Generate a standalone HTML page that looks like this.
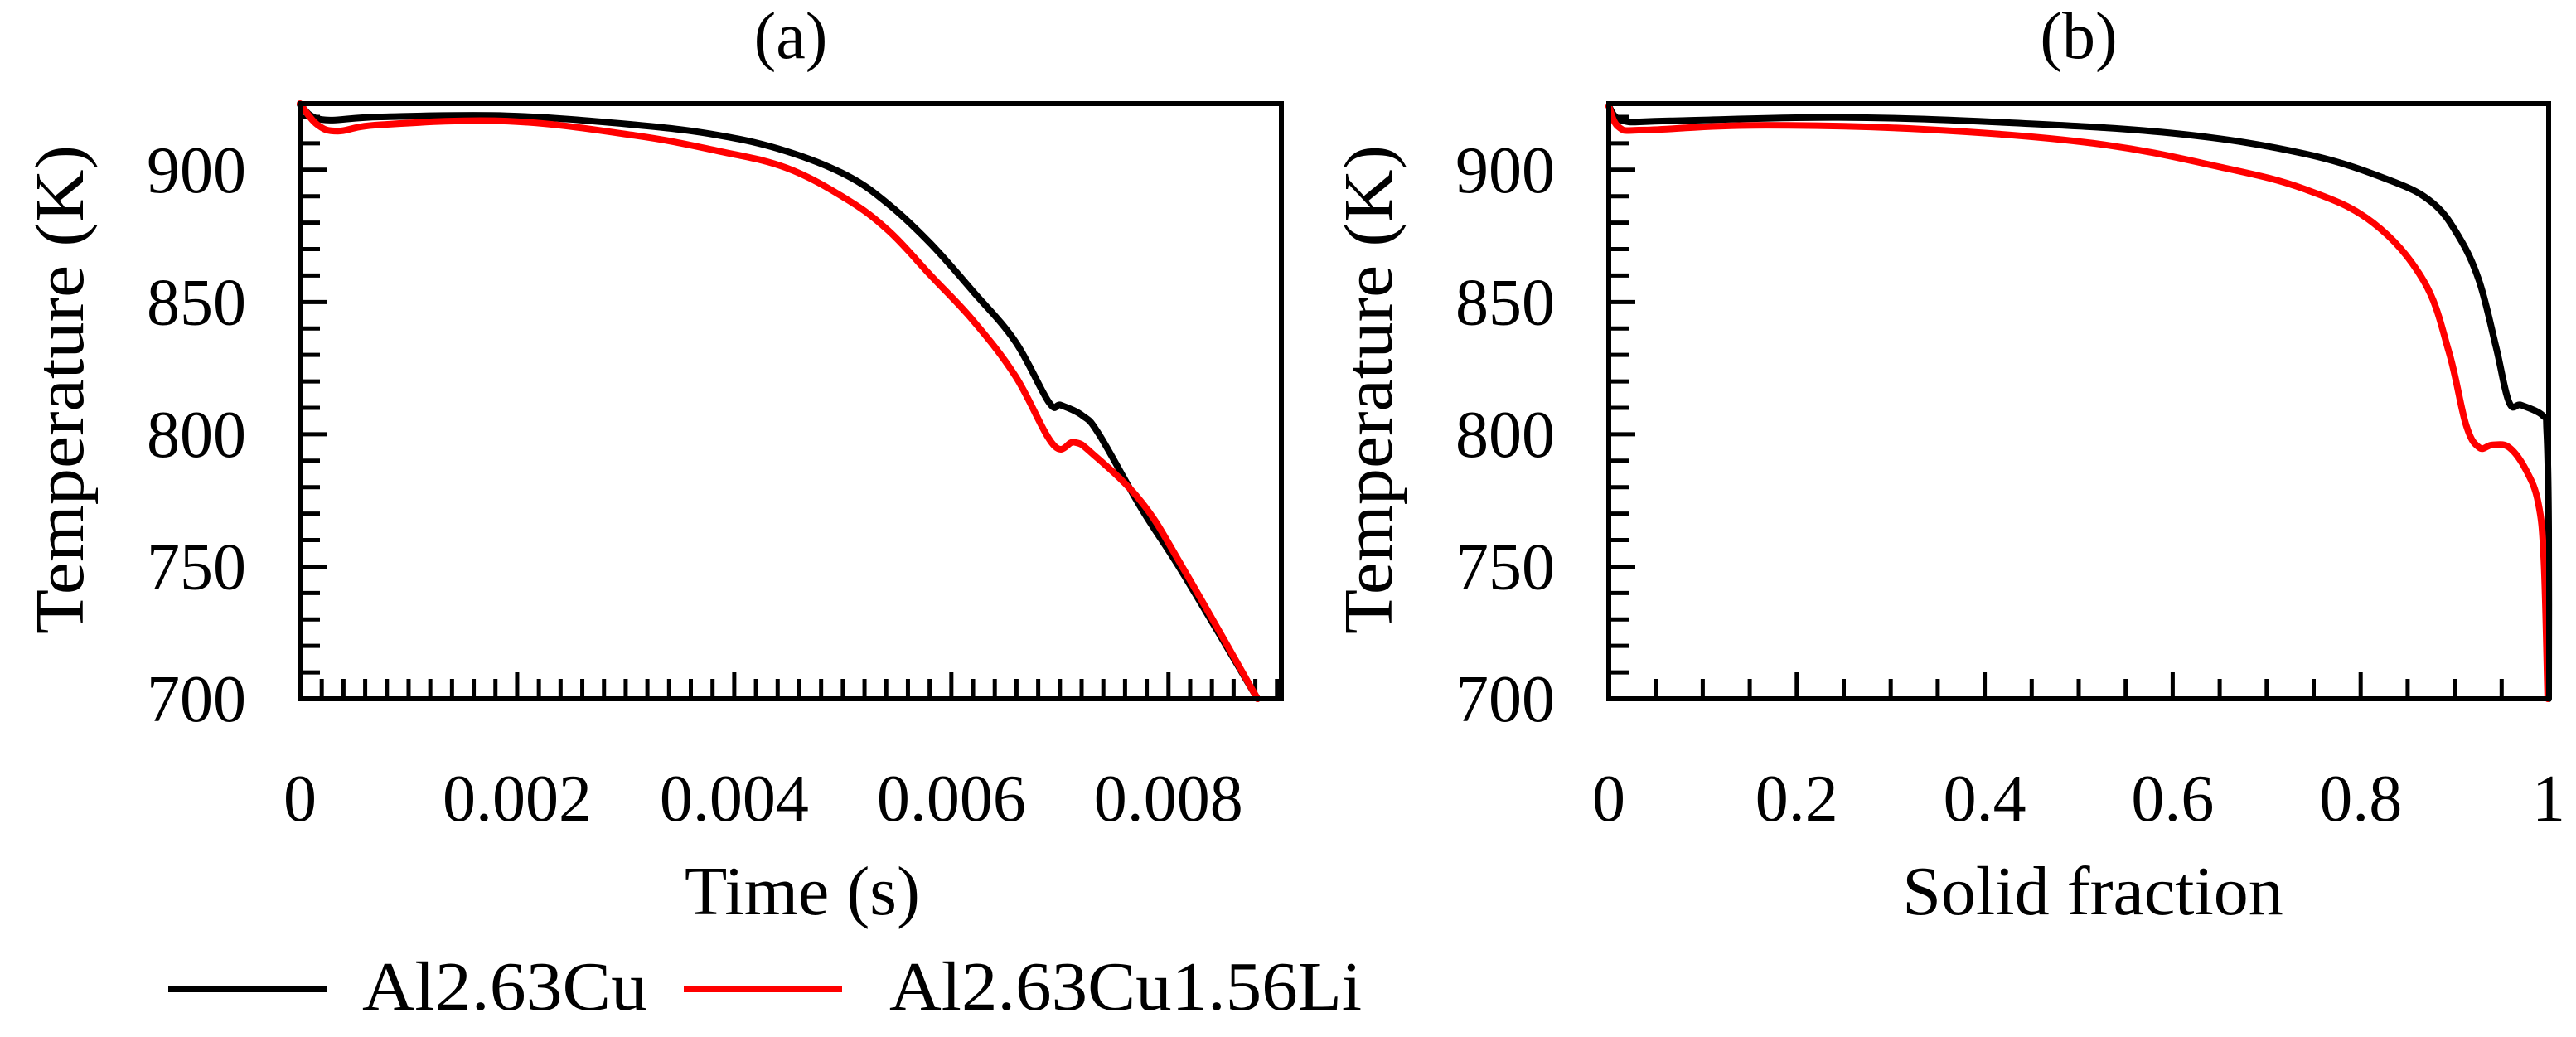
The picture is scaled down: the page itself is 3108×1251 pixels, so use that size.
<!DOCTYPE html>
<html><head><meta charset="utf-8">
<style>
html,body{margin:0;padding:0;background:#fff;}
svg{display:block;}
text{font-family:"Liberation Serif",serif;fill:#000;}
</style></head>
<body>
<svg id="fig" width="3108" height="1251" viewBox="0 0 3108 1251" xmlns="http://www.w3.org/2000/svg">
</svg>
<script>
// ---- Panel (a) data: Time (s) vs Temperature (K)
const timeCu   = [0, 0.000195, 0.00074, 0.00191, 0.00308, 0.00386, 0.00448, 0.00503, 0.00542, 0.00581, 0.0062, 0.00659, 0.0069, 0.00701, 0.00721, 0.00736, 0.00775, 0.00814, 0.00882];
const tempCuA  = [924.7, 919, 920, 920.4, 917, 913, 907, 898, 887, 872, 854, 835, 812, 811, 807, 800, 772, 747, 700];
const timeLi   = [0, 0.00016, 0.00035, 0.00074, 0.00191, 0.00308, 0.00386, 0.00448, 0.00503, 0.00542, 0.00581, 0.0062, 0.00659, 0.00694, 0.00713, 0.00729, 0.00775, 0.00814, 0.00882];
const tempLiA  = [925, 917, 914.6, 917, 918.4, 913, 907, 900.7, 889, 877, 860, 843, 822, 796, 797, 793, 774.5, 749, 700];
// ---- Panel (b) data: Solid fraction vs Temperature (K)
const fracCu   = [0, 0.0153, 0.065, 0.245, 0.426, 0.606, 0.741, 0.831, 0.876, 0.904, 0.926, 0.944, 0.958, 0.971, 0.994, 0.998, 1, 1];
const tempCuB  = [924, 918.5, 918.5, 919.8, 917.8, 913.6, 906, 896, 887.6, 875, 858, 833, 812, 811, 807, 801, 764, 700];
const fracLi   = [0, 0.011, 0.038, 0.155, 0.335, 0.516, 0.651, 0.741, 0.813, 0.867, 0.894, 0.912, 0.926, 0.94, 0.958, 0.976, 0.989, 0.995, 0.999];
const tempLiB  = [924, 916, 915, 916.8, 915.3, 910, 901, 892.6, 880, 858, 831, 803.7, 795, 796, 795, 786.4, 774, 752, 700];
// ---- ticks
const yTickLabels = [700, 750, 800, 850, 900];
const xTickLabelsA = [0, 0.002, 0.004, 0.006, 0.008];
const xTickLabelsB = [0, 0.2, 0.4, 0.6, 0.8, 1];

const NS = "http://www.w3.org/2000/svg";
const svg = document.getElementById('fig');
function mk(tag, attrs, parent){ const e=document.createElementNS(NS,tag); for(const k in attrs) e.setAttribute(k,attrs[k]); (parent||svg).appendChild(e); return e; }

function smoothPath(P){
  let d = 'M' + P[0][0].toFixed(1) + ',' + P[0][1].toFixed(1);
  for(let i=0;i<P.length-1;i++){
    const p0 = P[Math.max(0,i-1)], p1 = P[i], p2 = P[i+1], p3 = P[Math.min(P.length-1,i+2)];
    const t = 0.18;
    const c1 = [p1[0]+(p2[0]-p0[0])*t, p1[1]+(p2[1]-p0[1])*t];
    const c2 = [p2[0]-(p3[0]-p1[0])*t, p2[1]-(p3[1]-p1[1])*t];
    d += ' C' + c1[0].toFixed(1)+','+c1[1].toFixed(1)+' '+c2[0].toFixed(1)+','+c2[1].toFixed(1)+' '+p2[0].toFixed(1)+','+p2[1].toFixed(1);
  }
  return d;
}

function panel(cfg){
  const g = mk('g',{});
  
  
  const sx = v => cfg.x0 + (v - cfg.xmin)/(cfg.xmax - cfg.xmin)*(cfg.x1 - cfg.x0);
  const sy = v => cfg.y0 - (v - 700)/(925 - 700)*(cfg.y0 - cfg.y1);
  const nx = Math.round((cfg.xmaxTick - cfg.xmin)/cfg.xMinor);
  for(let i=1;i<=nx;i++){
    const v = cfg.xmin + i*cfg.xMinor;
    const major = i % cfg.xMajorEvery === 0;
    const t = mk('line',{x1:sx(v),x2:sx(v),y1:cfg.y0,y2:cfg.y0-(major?32:24),stroke:'#000','stroke-width':5},g);
    
    
  }
  for(let v=710; v<925; v+=10){
    const major = v % 50 === 0;
    const t = mk('line',{x1:cfg.x0,x2:cfg.x0+(major?32:24),y1:sy(v),y2:sy(v),stroke:'#000','stroke-width':5},g);
    
    
  }
  function series(xs, ys, color, name){
    const P = xs.map((x,i)=>[sx(x), sy(ys[i])]);
    const p = mk('path',{d:smoothPath(P),fill:'none',stroke:color,'stroke-width':8,'stroke-linejoin':'round','stroke-linecap':'round'},g);
    
    
  }
  series(cfg.xs1, cfg.ys1, '#000', 'series-al263cu');
  series(cfg.xs2, cfg.ys2, '#ff0000', 'series-al263cu156li');
  const f = mk('rect',{x:cfg.x0,y:cfg.y1,width:cfg.x1-cfg.x0,height:cfg.y0-cfg.y1,fill:'none',stroke:'#000','stroke-width':6},g);
  
  
  yTickLabels.forEach(v=>{
    const t = mk('text',{x:cfg.x0-65,y:sy(v)+27,'text-anchor':'end','font-size':80},g);
    t.textContent = v;
    
    
  });
  cfg.xLabels.forEach(v=>{
    const t = mk('text',{x:sx(v),y:990,'text-anchor':'middle','font-size':80},g);
    t.textContent = v;
    
    
  });
  const cx = (cfg.x0+cfg.x1)/2;
  const tt = mk('text',{x:cx,y:70,'text-anchor':'middle','font-size':80},g);
  tt.textContent = cfg.title;
  
  
  const xt = mk('text',{x:cfg.xTitleX,y:1103,'text-anchor':'middle','font-size':84},g);
  xt.textContent = cfg.xTitle;
  
  
  const yx = cfg.x0 - 290, yy = 470;
  const yt = mk('text',{x:yx,y:yy,'text-anchor':'middle','font-size':84,transform:`rotate(-90 ${yx} ${yy}) translate(0 28)`,textLength:590,lengthAdjust:'spacingAndGlyphs'},g);
  yt.textContent = 'Temperature (K)';
  
  
}

panel({name:'panel-a', x0:362, x1:1546, y0:843, y1:125, xmin:0, xmax:0.00904, xmaxTick:0.009, xMinor:0.0002, xMajorEvery:10,
  xs1:timeCu, ys1:tempCuA, xs2:timeLi, ys2:tempLiA, xLabels:xTickLabelsA, title:'(a)', xTitle:'Time (s)', xTitleX:968});
panel({name:'panel-b', x0:1941, x1:3075, y0:843, y1:125, xmin:0, xmax:1, xmaxTick:0.951, xMinor:0.05, xMajorEvery:4,
  xs1:fracCu, ys1:tempCuB, xs2:fracLi, ys2:tempLiB, xLabels:xTickLabelsB, title:'(b)', xTitle:'Solid fraction', xTitleX:2525});

const lg = mk('g',{});


const l1 = mk('line',{x1:203,x2:394,y1:1193,y2:1193,stroke:'#000','stroke-width':8},lg);


const t1 = mk('text',{x:437,y:1218,'font-size':84,textLength:344,lengthAdjust:'spacingAndGlyphs'},lg);
t1.textContent='Al2.63Cu';


const l2 = mk('line',{x1:825,x2:1016,y1:1193,y2:1193,stroke:'#ff0000','stroke-width':8},lg);


const t2 = mk('text',{x:1073,y:1218,'font-size':84,textLength:570,lengthAdjust:'spacingAndGlyphs'},lg);
t2.textContent='Al2.63Cu1.56Li';


</script>
</body></html>
